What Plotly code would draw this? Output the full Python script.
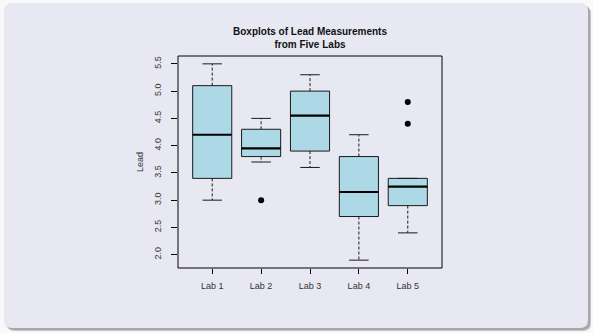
import plotly.graph_objects as go

# ---- data ----
labs = ["Lab 1", "Lab 2", "Lab 3", "Lab 4", "Lab 5"]
lower_whisker = [3.0, 3.7, 3.6, 1.9, 2.4]
q1 = [3.4, 3.8, 3.9, 2.7, 2.9]
median = [4.2, 3.95, 4.55, 3.15, 3.25]
q3 = [5.1, 4.3, 5.0, 3.8, 3.4]
upper_whisker = [5.5, 4.5, 5.3, 4.2, 3.4]
outlier_lab = ["Lab 2", "Lab 5", "Lab 5"]
outlier_val = [3.0, 4.8, 4.4]
yticks = [2.0, 2.5, 3.0, 3.5, 4.0, 4.5, 5.0, 5.5]

W, H = 593, 333
ML, MR, MT, MB = 178, 151, 56, 65
PW, PH = W - ML - MR, H - MT - MB

pos = {lab: i + 1 for i, lab in enumerate(labs)}
half = 0.4
staple = 0.2

fig = go.Figure()

# boxes
bx, by = [], []
for i, lab in enumerate(labs):
    x = pos[lab]
    bx += [x - half, x + half, x + half, x - half, x - half, None]
    by += [q1[i], q1[i], q3[i], q3[i], q1[i], None]
fig.add_trace(go.Scatter(x=bx, y=by, mode="lines", fill="toself",
                         fillcolor="#add8e6", line=dict(color="#1a1a1a", width=1),
                         hoverinfo="skip", showlegend=False))

# whiskers (dashed)
wx, wy = [], []
for i, lab in enumerate(labs):
    x = pos[lab]
    wx += [x, x, None, x, x, None]
    wy += [q3[i], upper_whisker[i], None, q1[i], lower_whisker[i], None]
fig.add_trace(go.Scatter(x=wx, y=wy, mode="lines",
                         line=dict(color="#1a1a1a", width=1, dash="3px,2px"),
                         hoverinfo="skip", showlegend=False))

# staples
sx, sy = [], []
for i, lab in enumerate(labs):
    x = pos[lab]
    sx += [x - staple, x + staple, None, x - staple, x + staple, None]
    sy += [upper_whisker[i], upper_whisker[i], None, lower_whisker[i], lower_whisker[i], None]
fig.add_trace(go.Scatter(x=sx, y=sy, mode="lines",
                         line=dict(color="#1a1a1a", width=1),
                         hoverinfo="skip", showlegend=False))

# medians
mx, my = [], []
for i, lab in enumerate(labs):
    x = pos[lab]
    mx += [x - half, x + half, None]
    my += [median[i], median[i], None]
fig.add_trace(go.Scatter(x=mx, y=my, mode="lines",
                         line=dict(color="#000000", width=2.2),
                         hoverinfo="skip", showlegend=False))

# outliers
fig.add_trace(go.Scatter(x=[pos[l] for l in outlier_lab], y=outlier_val, mode="markers",
                         marker=dict(color="#000000", size=6),
                         hoverinfo="skip", showlegend=False))


def px_x(p):
    return (p - ML) / PW


def px_y(p):
    return (H - MB - p) / PH


def rounded(x0, y0, x1, y1, r):
    pts = [
        f"M {px_x(x0 + r)},{px_y(y0)}",
        f"L {px_x(x1 - r)},{px_y(y0)}",
        f"Q {px_x(x1)},{px_y(y0)} {px_x(x1)},{px_y(y0 + r)}",
        f"L {px_x(x1)},{px_y(y1 - r)}",
        f"Q {px_x(x1)},{px_y(y1)} {px_x(x1 - r)},{px_y(y1)}",
        f"L {px_x(x0 + r)},{px_y(y1)}",
        f"Q {px_x(x0)},{px_y(y1)} {px_x(x0)},{px_y(y1 - r)}",
        f"L {px_x(x0)},{px_y(y0 + r)}",
        f"Q {px_x(x0)},{px_y(y0)} {px_x(x0 + r)},{px_y(y0)}",
        "Z",
    ]
    return " ".join(pts)


shapes = [
    dict(type="path", xref="paper", yref="paper", path=rounded(7, 6, 591, 331, 8),
         fillcolor="#c4c4c8", line=dict(width=0), layer="below"),
    dict(type="path", xref="paper", yref="paper", path=rounded(6, 5, 590, 330, 8),
         fillcolor="#a8a8ac", line=dict(width=0), layer="below"),
    dict(type="path", xref="paper", yref="paper", path=rounded(4, 3, 588, 328, 8),
         fillcolor="#e8e8f2", line=dict(width=0), layer="below"),
    dict(type="rect", xref="paper", yref="paper", x0=0, y0=0, x1=1, y1=1,
         line=dict(color="#000000", width=1), fillcolor="rgba(0,0,0,0)", layer="above"),
]

fig.update_layout(
    width=W, height=H,
    margin=dict(l=ML, r=MR, t=MT, b=MB),
    paper_bgcolor="#f9f9fb",
    plot_bgcolor="rgba(0,0,0,0)",
    font=dict(family="Liberation Sans, Arial, sans-serif", size=9, color="#333333"),
    title=dict(text="<b>Boxplots of Lead Measurements<br>from Five Labs</b>",
               xref="paper", x=0.5, xanchor="center",
               yref="container", y=1 - 34.5 / H, yanchor="middle",
               font=dict(size=10, color="#111111")),
    shapes=shapes,
    annotations=[dict(text="Lead", xref="paper", yref="paper",
                      x=px_x(140), y=0.5, xanchor="center", yanchor="middle",
                      textangle=-90, showarrow=False,
                      font=dict(size=9, color="#333333"))],
    showlegend=False,
)
fig.update_xaxes(range=[0.3, 5.7], tickvals=[pos[l] for l in labs], ticktext=labs,
                 ticks="outside", ticklen=5, tickcolor="#000000", showgrid=False,
                 zeroline=False, showline=False, ticklabelstandoff=4)
fig.update_yaxes(range=[1.756, 5.644], tickvals=yticks,
                 ticktext=[f"{v:.1f}" for v in yticks], tickangle=-90,
                 ticks="outside", ticklen=6, tickcolor="#000000", showgrid=False,
                 zeroline=False, showline=False, ticklabelstandoff=6)

fig.write_html("out.html", config={"displayModeBar": False},
               post_script="document.body.style.margin='0';document.body.style.padding='0';"
                           "document.body.style.overflow='hidden';")
